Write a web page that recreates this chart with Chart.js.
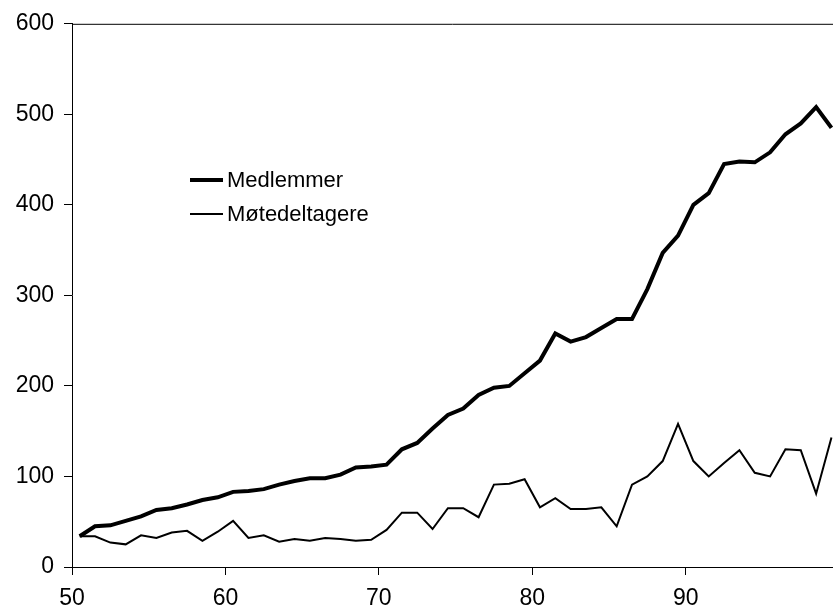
<!DOCTYPE html>
<html lang="da">
<head>
    <meta charset="UTF-8">
    <title>Medlemmer og møtedeltagere</title>
    <script src="https://cdn.jsdelivr.net/npm/chart.js"></script>
    <style>
        body {
            margin: 0;
            background: #ffffff;
            font-family: "Liberation Sans", Arial, sans-serif;
        }

        .wrap {
            position: relative;
            width: 833px;
            height: 612px;
        }

        .legend {
            position: absolute;
            left: 190px;
            top: 163px;
            font-size: 22px;
            color: #000;
        }

        .legend-item {
            display: flex;
            align-items: center;
            height: 34px;
        }

        .legend-line {
            width: 33px;
            margin-right: 4px;
            background: #000;
        }
    </style>
</head>
<body>
    <div class="wrap">
        <canvas id="chart" width="833" height="612"></canvas>
        <div class="legend">
            <div class="legend-item"><span class="legend-line" style="height:4px"></span>Medlemmer</div>
            <div class="legend-item"><span class="legend-line" style="height:2px"></span>Møtedeltagere</div>
        </div>
    </div>

    <script>
        // år (19xx)
        const years = [
            50, 51, 52, 53, 54, 55, 56, 57, 58, 59,
            60, 61, 62, 63, 64, 65, 66, 67, 68, 69,
            70, 71, 72, 73, 74, 75, 76, 77, 78, 79,
            80, 81, 82, 83, 84, 85, 86, 87, 88, 89,
            90, 91, 92, 93, 94, 95, 96, 97, 98, 99
        ];

        const medlemmer = [
            34, 45, 46, 51, 56, 63, 65, 69, 74, 77,
            83, 84, 86, 91, 95, 98, 98, 102, 110, 111,
            113, 130, 137, 153, 168, 175, 190, 198, 200, 214,
            228, 258, 249, 254, 264, 274, 274, 307, 347, 366,
            400, 413, 445, 448, 447, 458, 478, 490, 508, 485
        ];

        const motedeltagere = [
            34, 34, 27, 25, 35, 32, 38, 40, 29, 39,
            51, 32, 35, 28, 31, 29, 32, 31, 29, 30,
            41, 60, 60, 42, 65, 65, 55, 91, 92, 97,
            66, 76, 64, 64, 66, 45, 91, 100, 117, 158,
            117, 100, 115, 129, 104, 100, 130, 129, 81, 143
        ];

        const xTicks = [50, 60, 70, 80, 90];

        // punktene ligger midt i hvert år
        const toPoints = values => values.map((v, i) => ({ x: years[i] + 0.5, y: v }));

        const tickFont = { family: '"Liberation Sans", Arial, sans-serif', size: 23 };

        // strek langs toppen av plottet
        const topBorder = {
            id: 'topBorder',
            afterDraw(chart) {
                const { ctx, chartArea } = chart;
                ctx.save();
                ctx.strokeStyle = '#000';
                ctx.lineWidth = 1;
                ctx.beginPath();
                ctx.moveTo(chartArea.left, chartArea.top + 0.5);
                ctx.lineTo(chartArea.right, chartArea.top + 0.5);
                ctx.stroke();
                ctx.restore();
            }
        };

        new Chart(document.getElementById('chart'), {
            type: 'line',
            data: {
                datasets: [
                    {
                        label: 'Medlemmer',
                        data: toPoints(medlemmer),
                        borderColor: '#000',
                        borderWidth: 4,
                        pointRadius: 0,
                        tension: 0
                    },
                    {
                        label: 'Møtedeltagere',
                        data: toPoints(motedeltagere),
                        borderColor: '#000',
                        borderWidth: 2,
                        pointRadius: 0,
                        tension: 0
                    }
                ]
            },
            options: {
                responsive: false,
                animation: false,
                layout: { padding: { top: 22, right: 0, left: 0, bottom: 0 } },
                plugins: {
                    legend: { display: false },
                    tooltip: { enabled: false }
                },
                scales: {
                    x: {
                        type: 'linear',
                        min: 50,
                        max: 99.6,
                        afterFit: scale => { scale.height = 45; },
                        afterBuildTicks: scale => { scale.ticks = xTicks.map(v => ({ value: v })); },
                        ticks: { font: tickFont, color: '#000', padding: 10, maxRotation: 0 },
                        grid: { drawOnChartArea: false, tickLength: 8, color: '#000' },
                        border: { color: '#000', width: 1 }
                    },
                    y: {
                        min: 0,
                        max: 600,
                        afterFit: scale => { scale.width = 72; },
                        ticks: { stepSize: 100, font: tickFont, color: '#000', padding: 10 },
                        grid: { drawOnChartArea: false, tickLength: 8, color: '#000' },
                        border: { color: '#000', width: 1 }
                    }
                }
            },
            plugins: [topBorder]
        });
    </script>
</body>
</html>
